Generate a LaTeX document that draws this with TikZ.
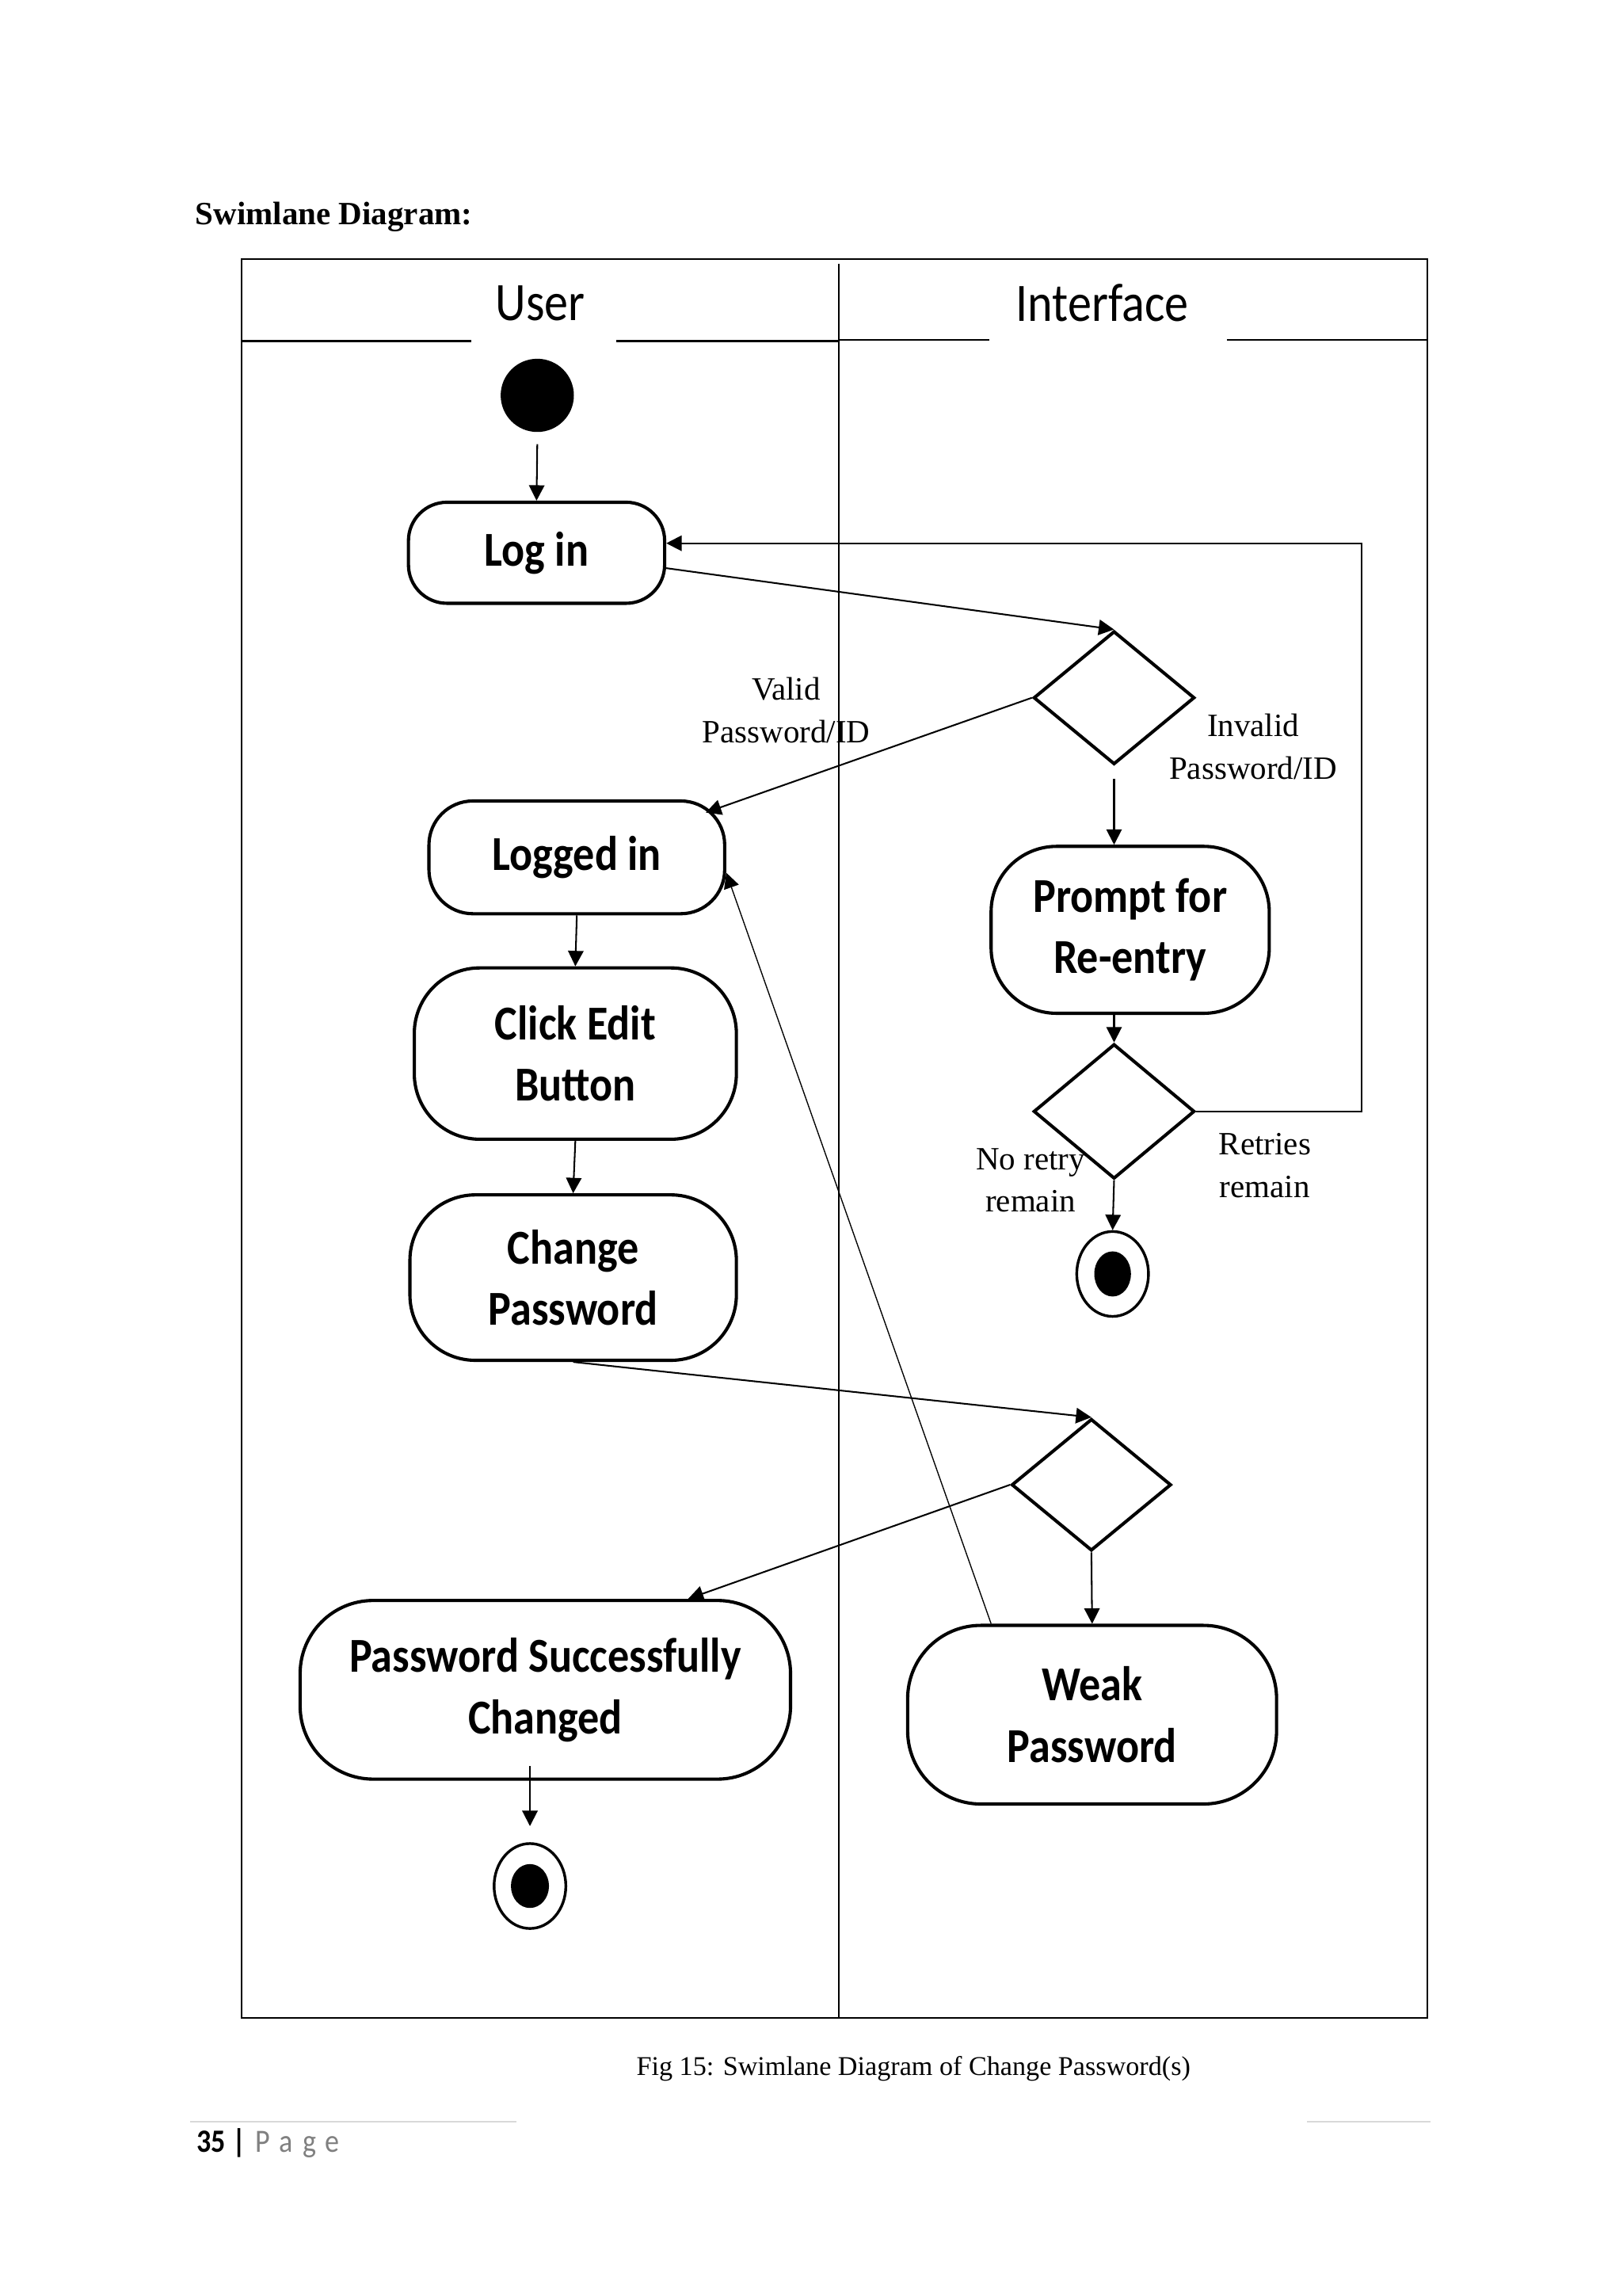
\documentclass[tikz,border=0pt]{standalone}
\usepackage{fontspec}
\setmainfont{Liberation Serif}
\newfontfamily\lanefont[FakeStretch=0.88]{Carlito}
\newfontfamily\pagefont[FakeStretch=0.88,LetterSpace=30]{Carlito}
\usetikzlibrary{shapes.geometric,arrows.meta,calc}

\begin{document}
\begin{tikzpicture}[x=0.01902cm,y=-0.01902cm]
        \def\px{0.01902cm}
        \tikzstyle{activity} = [draw, line width=1.2pt, rounded corners=0.85cm, align=center, inner sep=0pt, font=\lanefont\bfseries\fontsize{18}{22.7}\selectfont]
        \tikzstyle{decision} = [draw, diamond, line width=1.2pt, inner sep=0pt]
        \tikzstyle{final} = [draw, ellipse, line width=1pt, inner sep=0pt, minimum width=49*\px, minimum height=58*\px]
        \tikzstyle{flow} = [-{Triangle[length=0.2cm,width=0.2cm]}, line width=0.6pt]
        \tikzstyle{guard} = [align=center, font=\fontsize{12}{15.7}\selectfont]
        \tikzstyle{lane} = [font=\lanefont\fontsize{20}{24}\selectfont]
        \useasboundingbox (0,0) rectangle (1108.4,1568);
        % Draw the title above the lanes
        \node[anchor=west, font=\bfseries\fontsize{12}{14}\selectfont] (title) at (127,148) {Swimlane Diagram:};
        % Draw the frame of the two lanes
        \draw[line width=0.7pt] (165,177) rectangle (975,1378);
        \draw[line width=0.7pt] (573,180) -- (573,1378);
        \draw[line width=0.7pt] (165,233) -- (322,233) (421,233) -- (573,233);
        \draw[line width=0.7pt] (573,232) -- (676,232) (838,232) -- (975,232);
        % Draw the lane names
        \node[lane] (userlane) at (369,207) {User};
        \node[lane] (uilane) at (753,207) {Interface};
        % Draw the start and end points
        \node[circle, fill, minimum size=50*\px, inner sep=0pt] (start) at (367,270) {};
        \node[final] (end1) at (760,870) {};
        \fill (end1.center) ellipse [x radius=0.238cm, y radius=0.293cm];
        \node[final] (end2) at (362,1288) {};
        \fill (end2.center) ellipse [x radius=0.247cm, y radius=0.285cm];
        % Draw the activities of the user lane
        \node[activity, minimum width=175*\px, minimum height=69*\px, rounded corners=0.5cm] (login) at (366.5,377.5) {Log in};
        \node[activity, minimum width=202*\px, minimum height=77*\px, rounded corners=0.57cm] (loggedin) at (394,585.5) {Logged in};
        \node[activity, minimum width=220*\px, minimum height=117*\px] (clickedit) at (393,719.5) {Click Edit\\Button};
        \node[activity, minimum width=223*\px, minimum height=113*\px] (change) at (391.5,872.5) {Change\\Password};
        \node[activity, minimum width=335*\px, minimum height=122*\px, rounded corners=0.95cm] (psc) at (372.5,1154) {Password Successfully\\Changed};
        % Draw the activities and decisions of the interface lane
        \node[decision, minimum width=110*\px, minimum height=91*\px] (dec1) at (761,476.5) {};
        \node[activity, minimum width=190*\px, minimum height=114*\px] (prompt) at (772,635) {Prompt for\\Re-entry};
        \node[decision, minimum width=110*\px, minimum height=92*\px] (dec2) at (761,759) {};
        \node[decision, minimum width=109*\px, minimum height=90*\px] (dec3) at (745.5,1014) {};
        \node[activity, minimum width=252*\px, minimum height=122*\px, rounded corners=0.95cm] (weak) at (746,1171) {Weak\\Password};
        % Draw the guard labels
        \node[guard] (validlbl) at (537,485) {Valid\\Password/ID};
        \node[guard] (invalidlbl) at (856,510) {Invalid\\Password/ID};
        \node[guard] (noretrylbl) at (704,806) {No retry\\remain};
        \node[guard] (retrieslbl) at (864,796) {Retries\\remain};
        % Draw the flows
        \draw[flow] ($(start.south)+(0,8)$) -- (login.north);
        \draw[flow] ($(login.east)+(0,10.5)$) -- (dec1.north);
        \draw[flow] (dec1.west) -- ($(loggedin.north east)+(-14,9)$);
        \draw[flow] ($(dec1.south)+(0,9)$) -- (dec1.south |- prompt.north);
        \draw[flow] (dec2.north |- prompt.south) -- (dec2.north);
        \draw[flow] (dec2.east) -- ++(113,0) |- ($(login.east)+(0,-6.5)$);
        \draw[flow] (dec2.south) -- (end1.north);
        \draw[flow] (loggedin.south) -- (clickedit.north);
        \draw[flow] (clickedit.south) -- (change.north);
        \draw[flow] (change.south) -- (dec3.north);
        \draw[flow] (dec3.west) -- ($(psc.north)+(97.5,0)$);
        \draw[flow] (dec3.south) -- (weak.north);
        \draw[flow, line width=0.4pt] ($(weak.north)+(-69,0)$) -- ($(loggedin.east)+(0,10.5)$);
        \draw[flow] ($(end2.north |- psc.south)+(0,-10)$) -- ($(end2.north)+(0,-11)$);
        % Draw the caption and the page footer
        \node[font=\fontsize{10}{12}\selectfont] (caption) at (624,1413) {Fig 15: Swimlane Diagram of Change Password(s)};
        \draw[black!15, line width=0.6pt] (130,1449) -- (353,1449) (893,1449) -- (977,1449);
        \node[anchor=base west, inner sep=0pt, font=\lanefont\bfseries\fontsize{12}{14}\selectfont] (pagenum) at (134,1470) {35 |};
        \node[anchor=base west, inner sep=0pt, text=black!50, font=\pagefont\fontsize{12}{14}\selectfont] (pageword) at (174,1470) {Page};
\end{tikzpicture}
\end{document}
